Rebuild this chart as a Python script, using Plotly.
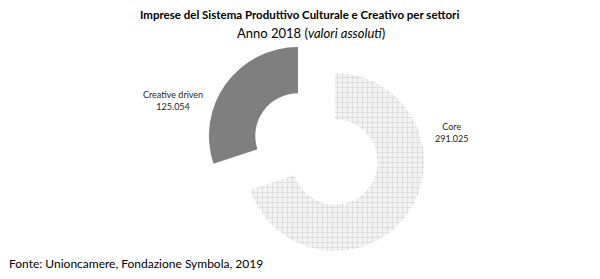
import plotly.graph_objects as go

categories = ["Core", "Creative driven"]
values = [291025, 125054]
colors = ["#efefef", "#7f7f7f"]

W, H = 600, 279

def fmt(v):
    return f"{v:,}".replace(",", ".")

def dom(cx, cy, r):
    return dict(x=[(cx - r) / W, (cx + r) / W], y=[(H - cy - r) / H, (H - cy + r) / H])

fig = go.Figure()
# Core slice (not pulled)
fig.add_trace(go.Pie(
    labels=categories, values=values, sort=False, direction="clockwise", rotation=0,
    hole=0.48, textinfo="none", hoverinfo="label+value", showlegend=False,
    domain=dom(335, 162, 89),
    marker=dict(colors=[colors[0], "rgba(0,0,0,0)"],
                pattern=dict(shape=["+", ""], fgcolor="#dadada", bgcolor="#f3f3f3", size=5, solidity=0.3),
                line=dict(width=0)),
))
# Creative driven slice (exploded)
fig.add_trace(go.Pie(
    labels=categories, values=values, sort=False, direction="clockwise", rotation=0,
    hole=0.48, textinfo="none", hoverinfo="label+value", showlegend=False,
    domain=dom(298, 136, 89),
    marker=dict(colors=["rgba(0,0,0,0)", colors[1]], line=dict(width=0)),
))

label_pos = [(451, 132), (173, 100)]
annotations = []
for (c, v, (x, y)) in zip(categories, values, label_pos):
    annotations.append(dict(x=x / W, y=1 - y / H, xref="paper", yref="paper",
                            xanchor="center", yanchor="middle",
                            text=f"{c}<br>{fmt(v)}", showarrow=False,
                            font=dict(family="Lato", size=9, color="#262626"), align="center"))

annotations += [
    dict(x=299 / W, y=1 - 15 / H, xref="paper", yref="paper", showarrow=False,
         xanchor="center", yanchor="middle",
         text="<b>Imprese del Sistema Produttivo Culturale e Creativo per settori</b>",
         font=dict(family="Lato", size=11.5, color="#000000")),
    dict(x=311 / W, y=1 - 33 / H, xref="paper", yref="paper", showarrow=False,
         xanchor="center", yanchor="middle",
         text="Anno 2018 (<i>valori assoluti</i>)",
         font=dict(family="Lato", size=13, color="#000000")),
    dict(x=7 / W, y=1 - 263 / H, xref="paper", yref="paper", showarrow=False,
         xanchor="left", yanchor="middle",
         text="Fonte: Unioncamere, Fondazione Symbola, 2019",
         font=dict(family="Lato", size=12, color="#000000")),
]

fig.update_layout(width=W, height=H, margin=dict(l=0, r=0, t=0, b=0),
                  paper_bgcolor="white", plot_bgcolor="white", annotations=annotations)
fig.write_html("out.html")
